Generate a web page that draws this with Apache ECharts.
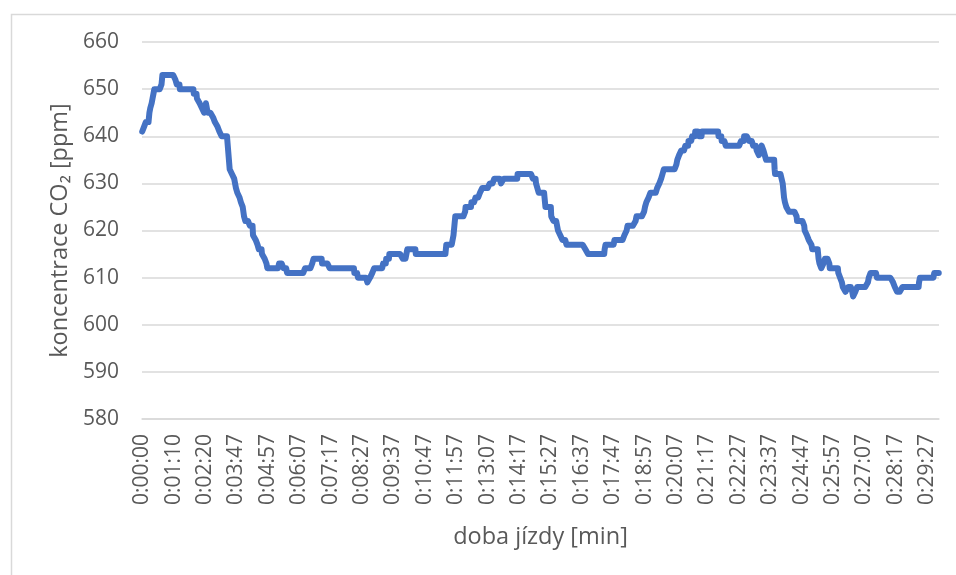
<!DOCTYPE html>
<html>
<head>
<meta charset="utf-8">
<script src="https://cdn.jsdelivr.net/npm/echarts@6.0.0/dist/echarts.min.js"></script>
<style>
  html, body { margin: 0; padding: 0; background: #ffffff; }
  #chart { width: 956px; height: 575px; }
</style>
</head>
<body>
<div id="chart"></div>
<script>
// Recording timeline: contiguous blocks of 1 s samples (start second, sample count)
const segStartSec = [0, 197];
const segLength = [180, 1597];

// CO2 concentration [ppm], stored as held levels and how many samples each level lasts
const levels = [
  641, 642, 643, 645, 646, 647, 648, 649, 650, 651, 652, 653, 652, 651, 650, 649, 648, 647, 646, 645,
  647, 645, 644, 643, 642, 641, 640, 633, 632, 631, 629, 628, 627, 626, 625, 623, 622, 621, 619, 618,
  617, 616, 615, 614, 613, 612, 613, 612, 611, 612, 613, 614, 613, 612, 611, 610, 609, 610, 611, 612,
  613, 614, 615, 614, 616, 615, 617, 619, 621, 623, 624, 625, 626, 627, 628, 629, 630, 631, 630, 631,
  632, 631, 630, 628, 627, 626, 625, 623, 622, 620, 619, 618, 617, 616, 615, 616, 617, 618, 619, 620,
  621, 622, 623, 624, 625, 626, 627, 628, 629, 630, 631, 632, 633, 634, 635, 636, 637, 638, 639, 640,
  641, 640, 641, 640, 639, 638, 639, 640, 639, 638, 637, 636, 638, 637, 635, 633, 632, 630, 627, 626,
  625, 624, 623, 622, 621, 620, 619, 618, 617, 616, 615, 614, 613, 612, 613, 614, 613, 612, 611, 610,
  609, 608, 607, 608, 607, 606, 607, 608, 609, 610, 611, 610, 609, 608, 607, 608, 609, 610, 611
];
const runs = [
  4, 4, 8, 2, 3, 2, 2, 2, 16, 1, 1, 29, 3, 7, 31, 7, 6, 5, 5, 4,
  4, 12, 4, 6, 4, 5, 18, 5, 5, 4, 3, 5, 3, 4, 3, 3, 10, 7, 6, 4,
  3, 7, 6, 4, 2, 26, 10, 8, 40, 16, 3, 19, 17, 55, 8, 21, 6, 5, 4, 20,
  7, 7, 30, 10, 19, 68, 16, 2, 2, 22, 1, 13, 9, 10, 5, 17, 10, 15, 6, 31,
  34, 7, 6, 13, 1, 1, 13, 5, 10, 5, 5, 9, 42, 6, 37, 2, 20, 22, 5, 2,
  18, 2, 17, 2, 3, 5, 4, 15, 5, 4, 3, 3, 28, 2, 4, 5, 9, 7, 8, 7,
  8, 7, 37, 7, 9, 34, 7, 11, 9, 8, 5, 6, 4, 6, 19, 1, 17, 3, 2, 3,
  6, 17, 1, 16, 1, 5, 4, 6, 2, 13, 1, 2, 4, 5, 3, 10, 1, 19, 4, 4,
  2, 6, 6, 9, 2, 5, 4, 24, 2, 4, 14, 36, 4, 5, 12, 37, 2, 32, 11
];

// y-axis scale
const yMin = 580;
const yMax = 660;
const yStep = 10;

function clock(sec) {
  const h = Math.floor(sec / 3600);
  const m = Math.floor((sec % 3600) / 60);
  const s = sec % 60;
  return h + ':' + String(m).padStart(2, '0') + ':' + String(s).padStart(2, '0');
}

const times = [];
segStartSec.forEach(function (start, k) {
  for (let j = 0; j < segLength[k]; j++) times.push(clock(start + j));
});

const co2 = [];
levels.forEach(function (v, k) {
  for (let j = 0; j < runs[k]; j++) co2.push(v);
});

const FONT = '"Open Sans", "Noto Sans", sans-serif';
const TEXT = '#595959';
const GRID = '#d9d9d9';

const chart = echarts.init(document.getElementById('chart'), null, { renderer: 'canvas' });
chart.setOption({
  animation: false,
  backgroundColor: '#ffffff',
  graphic: [{
    type: 'rect',
    left: 9, top: 12,
    shape: { width: 980, height: 620 },
    style: { fill: 'none', stroke: GRID, lineWidth: 1.5 },
    silent: true
  }],
  grid: { left: 142, right: 17, top: 42, bottom: 156, containLabel: false },
  xAxis: {
    type: 'category',
    data: times,
    boundaryGap: true,
    name: 'doba jízdy [min]',
    nameLocation: 'middle',
    nameGap: 106,
    nameTextStyle: { fontFamily: FONT, fontSize: 23.5, color: TEXT },
    axisLine: { show: true, lineStyle: { color: GRID, width: 1.5 } },
    axisTick: { show: false },
    axisLabel: {
      interval: 69,
      rotate: 90,
      margin: 15,
      fontFamily: FONT,
      fontSize: 21,
      color: TEXT
    },
    splitLine: { show: false }
  },
  yAxis: {
    type: 'value',
    min: yMin,
    max: yMax,
    interval: yStep,
    name: 'koncentrace CO₂ [ppm]',
    nameLocation: 'middle',
    nameGap: 66,
    nameTextStyle: { fontFamily: FONT, fontSize: 23.5, color: TEXT },
    axisLine: { show: false },
    axisTick: { show: false },
    axisLabel: { margin: 23, fontFamily: FONT, fontSize: 21, color: TEXT },
    splitLine: { show: true, lineStyle: { color: GRID, width: 1.5 } }
  },
  series: [{
    type: 'line',
    data: co2,
    showSymbol: false,
    symbol: 'none',
    sampling: null,
    lineStyle: { color: '#4472C4', width: 6, cap: 'round', join: 'round' },
    z: 3
  }]
});
</script>
</body>
</html>
